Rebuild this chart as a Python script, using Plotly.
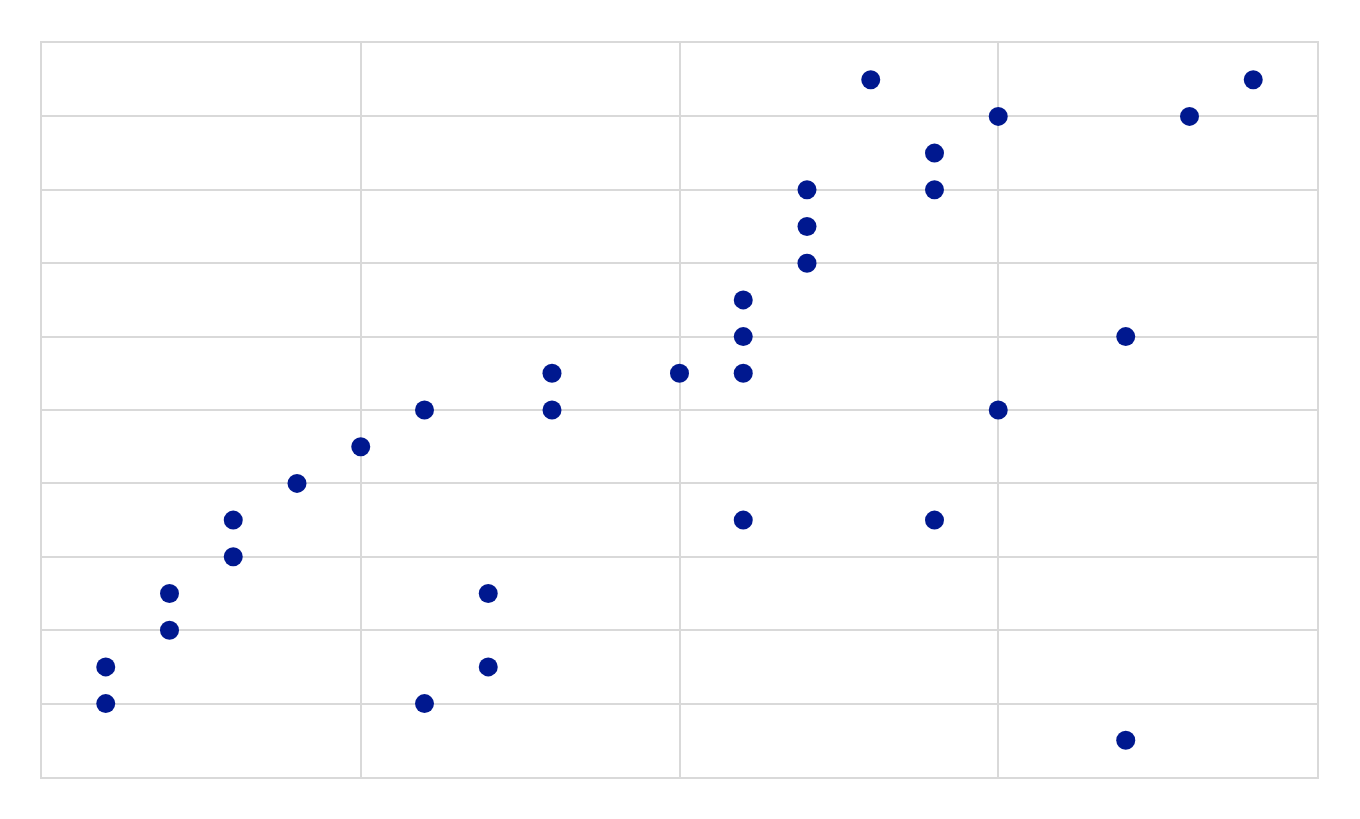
import plotly.graph_objects as go

x_vals = [1, 1, 2, 2, 3, 3, 4, 5, 6, 6, 7, 7, 8, 8, 10, 11, 11, 11, 11,
          12, 12, 12, 13, 14, 14, 14, 15, 15, 17, 17, 18, 19]
y_vals = [2, 3, 4, 5, 6, 7, 8, 9, 10, 2, 3, 5, 10, 11, 11, 11, 12, 13, 7,
          14, 15, 16, 19, 17, 16, 7, 18, 10, 12, 1, 18, 19]

fig = go.Figure(go.Scatter(
    x=x_vals, y=y_vals, mode="markers",
    marker=dict(size=19, color="#00188f"),
))

axis_common = dict(
    showticklabels=False, ticks="", zeroline=False,
    showgrid=True, gridcolor="#d9d9d9", gridwidth=2,
    showline=True, linecolor="#d9d9d9", linewidth=2, mirror=True,
)
fig.update_xaxes(range=[0, 20], dtick=5, **axis_common)
fig.update_yaxes(range=[0, 20], dtick=2, **axis_common)

fig.update_layout(
    width=1360, height=819,
    margin=dict(l=34, r=51, t=35, b=50),
    plot_bgcolor="white", paper_bgcolor="white",
    showlegend=False,
)

fig.write_html("out.html")
